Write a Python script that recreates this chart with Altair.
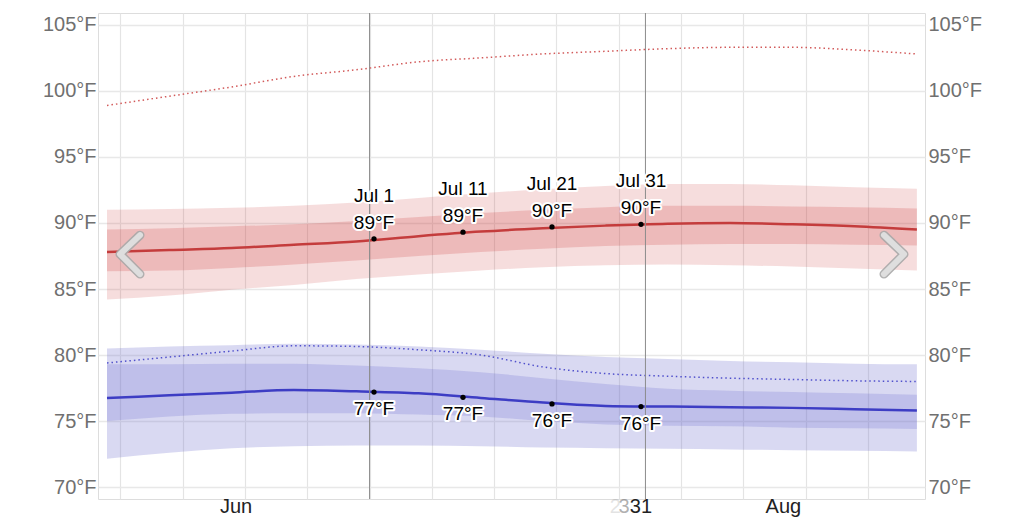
import altair as alt
import pandas as pd

# ---------------- data ----------------
knot_dates = ["2023-06-01", "2023-06-08", "2023-06-15", "2023-06-22", "2023-06-29",
              "2023-07-06", "2023-07-13", "2023-07-20", "2023-07-27", "2023-08-03",
              "2023-08-10", "2023-08-17", "2023-08-24", "2023-08-31"]

high_avg = [87.8, 87.95, 88.1, 88.35, 88.6, 89.0, 89.35, 89.6, 89.8, 89.95, 90.0, 89.9, 89.75, 89.5]
high_p10 = [84.2, 84.5, 84.95, 85.3, 85.75, 86.1, 86.4, 86.65, 86.8, 86.85, 86.8, 86.7, 86.55, 86.4]
high_p90 = [91.0, 91.05, 91.15, 91.3, 91.55, 91.9, 92.25, 92.55, 92.8, 92.95, 92.95, 92.85, 92.7, 92.6]
high_p25 = [86.35, 86.4, 86.6, 86.85, 87.15, 87.5, 87.8, 88.05, 88.25, 88.35, 88.4, 88.4, 88.35, 88.3]
high_p75 = [89.5, 89.6, 89.75, 89.9, 90.15, 90.45, 90.75, 91.0, 91.2, 91.3, 91.3, 91.25, 91.2, 91.1]
high_dot = [98.9, 99.6, 100.3, 101.1, 101.6, 102.2, 102.5, 102.8, 103.0, 103.2, 103.3, 103.3, 103.1, 102.8]

low_avg = [76.75, 76.95, 77.15, 77.35, 77.25, 77.1, 76.75, 76.4, 76.15, 76.1, 76.05, 76.0, 75.9, 75.8]
low_p10 = [72.15, 72.6, 72.95, 73.1, 73.15, 73.15, 73.1, 73.0, 72.95, 72.9, 72.85, 72.8, 72.75, 72.7]
low_p90 = [80.5, 80.65, 80.75, 80.85, 80.8, 80.65, 80.4, 80.1, 79.85, 79.7, 79.55, 79.45, 79.35, 79.3]
low_p25 = [75.0, 75.35, 75.55, 75.6, 75.6, 75.5, 75.35, 75.0, 74.75, 74.65, 74.6, 74.5, 74.45, 74.4]
low_p75 = [79.3, 79.3, 79.35, 79.35, 79.2, 79.0, 78.7, 78.25, 77.8, 77.45, 77.3, 77.2, 77.1, 77.0]
low_dot = [79.4, 79.85, 80.3, 80.7, 80.65, 80.4, 80.0, 79.1, 78.6, 78.4, 78.25, 78.15, 78.05, 78.0]

ann_dates = ["2023-07-01", "2023-07-11", "2023-07-21", "2023-07-31"]
ann_names = ["Jul 1", "Jul 11", "Jul 21", "Jul 31"]
ann_high = [88.8, 89.3, 89.7, 89.9]
ann_high_lbl = ["89°F", "89°F", "90°F", "90°F"]
ann_low = [77.2, 76.8, 76.3, 76.1]
ann_low_lbl = ["77°F", "77°F", "76°F", "76°F"]

month_days = [15.0, 76.5]          # days since Jun 1 00:00 (mid-month)
month_labels = ["Jun", "Aug"]
day_label_days = [60.5]
day_labels = ["31"]
ghost_days = [57.6, 58.6]
ghost_labels = ["2", "3"]
ghost_opacity = [0.12, 0.35]

grid_days = [2, 9, 16, 23, 30, 37, 44, 51, 58, 65, 72, 79, 86]   # weekly midnights
marker_days = [30, 61]                                         # Jul 1, Aug 1
y_ticks = [70, 75, 80, 85, 90, 95, 100, 105]

chev_id = ["L", "L", "L", "R", "R", "R"]
chev_i = [0, 1, 2, 0, 1, 2]
chev_x = [4.21, 1.96, 4.21, 87.8, 90.05, 87.8]
chev_y = [89.08, 87.64, 86.13, 89.08, 87.64, 86.13]

# ---------------- tables ----------------
start = pd.Timestamp("2023-06-01")
def to_day(ds):
    return [(pd.Timestamp(d) - start).days + 0.5 for d in ds]

df = pd.DataFrame({
    "day": to_day(knot_dates),
    "high_avg": high_avg, "high_p10": high_p10, "high_p90": high_p90,
    "high_p25": high_p25, "high_p75": high_p75, "high_dot": high_dot,
    "low_avg": low_avg, "low_p10": low_p10, "low_p90": low_p90,
    "low_p25": low_p25, "low_p75": low_p75, "low_dot": low_dot,
})
ann = pd.DataFrame({"day": to_day(ann_dates), "name": ann_names,
                    "hi": ann_high, "hil": ann_high_lbl,
                    "lo": ann_low, "lol": ann_low_lbl})
months = pd.DataFrame({"day": month_days, "lbl": month_labels})
dlabels = pd.DataFrame({"day": day_label_days, "lbl": day_labels})
ghosts = pd.DataFrame({"day": ghost_days, "lbl": ghost_labels, "op": ghost_opacity})
markers = pd.DataFrame({"day": marker_days})
chev = pd.DataFrame({"id": chev_id, "i": chev_i, "day": chev_x, "v": chev_y})

FONT = "Liberation Sans"
YDOM = [69.1, 105.9]
xs = alt.Scale(domain=[-0.511, 92.41], nice=False, zero=False)
xaxis = alt.Axis(values=grid_days, grid=True, labels=False, ticks=False, domain=False,
                 title=None, gridColor="#e4e4e4", gridWidth=1.2)
X = alt.X("day:Q", scale=xs, axis=xaxis)
ys = alt.Scale(domain=YDOM, nice=False, zero=False)
yaxis_left = alt.Axis(values=y_ticks, labelExpr="datum.value + '°F'", orient="left",
                      domain=False, ticks=False, labelPadding=2, title=None,
                      gridColor="#e8e8e8", gridWidth=1.5, labelFontSize=20,
                      labelColor="#707070", labelFont=FONT)
yaxis_right = alt.Axis(values=y_ticks, labelExpr="datum.value + '°F'", orient="right",
                       domain=False, ticks=False, labelPadding=3, title=None, grid=False,
                       labelFontSize=20, labelColor="#707070", labelFont=FONT)

base = alt.Chart(df)

def band(lo, hi, color, op):
    return base.mark_area(color=color, opacity=op, interpolate="monotone").encode(
        x=X, y=alt.Y(f"{lo}:Q", scale=ys, axis=yaxis_left), y2=f"{hi}:Q")

def line(field, color, width, dash=None):
    kw = dict(color=color, strokeWidth=width, interpolate="monotone")
    if dash:
        kw["strokeDash"] = dash
    return base.mark_line(**kw).encode(x=X, y=alt.Y(f"{field}:Q", scale=ys, axis=yaxis_left))

RED = "#cc3333"
BLUE = "#6666cc"
layers = [
    band("high_p10", "high_p90", RED, 0.17),
    band("high_p25", "high_p75", RED, 0.2),
    band("low_p10", "low_p90", BLUE, 0.25),
    band("low_p25", "low_p75", BLUE, 0.22),
    line("low_dot", "#5050cc", 1.5, [1.5, 3]),
    line("high_avg", "#c43c3c", 2.5),
    line("low_avg", "#3d3dc4", 2.5),
]

rules = alt.Chart(markers).mark_rule(color="#8c8c8c", strokeWidth=1).encode(x=X)

dots_hi = alt.Chart(ann).mark_circle(color="black", size=28, opacity=1).encode(
    x=X, y=alt.Y("hi:Q", scale=ys, axis=yaxis_left))
dots_lo = alt.Chart(ann).mark_circle(color="black", size=28, opacity=1).encode(
    x=X, y=alt.Y("lo:Q", scale=ys, axis=yaxis_left))

def halo_text(field, yfield, dy):
    out = []
    for stroke in (True, False):
        kw = dict(font=FONT, fontSize=19, dy=dy, baseline="alphabetic", align="center")
        if stroke:
            kw.update(color="white", stroke="white", strokeWidth=4, strokeJoin="round")
        else:
            kw.update(color="black")
        out.append(alt.Chart(ann).mark_text(**kw).encode(
            x=X, y=alt.Y(f"{yfield}:Q", scale=ys, axis=yaxis_left), text=f"{field}:N"))
    return out

texts = halo_text("name", "hi", -37) + halo_text("hil", "hi", -10) + halo_text("lol", "lo", 23)

LBL_Y = 500
mtext = alt.Chart(months).mark_text(font=FONT, fontSize=20, color="#222222",
                                    baseline="alphabetic").encode(
    x=X, y=alt.value(LBL_Y), text="lbl:N")
dtext = alt.Chart(dlabels).mark_text(font=FONT, fontSize=20, color="#222222",
                                     baseline="alphabetic").encode(
    x=X, y=alt.value(LBL_Y), text="lbl:N")
gtext = alt.Chart(ghosts).mark_text(font=FONT, fontSize=20, color="#222222",
                                    baseline="alphabetic").encode(
    x=X, y=alt.value(LBL_Y), text="lbl:N", opacity=alt.Opacity("op:Q", scale=None))

chev_outer = alt.Chart(chev).mark_line(color="#a9a9a9", strokeWidth=9, strokeCap="round",
                                       strokeJoin="round", opacity=0.9).encode(
    x=X, y=alt.Y("v:Q", scale=ys, axis=yaxis_left), detail="id:N", order="i:Q")
chev_inner = alt.Chart(chev).mark_line(color="#dedede", strokeWidth=6, strokeCap="round",
                                       strokeJoin="round").encode(
    x=X, y=alt.Y("v:Q", scale=ys, axis=yaxis_left), detail="id:N", order="i:Q")

main = alt.layer(*layers, rules, dots_hi, dots_lo, *texts, mtext, gtext, dtext,
                 chev_outer, chev_inner)

right = base.mark_line(color="#d25a5a", strokeWidth=1.5, strokeDash=[1.5, 3],
                       interpolate="monotone").encode(
    x=X, y=alt.Y("high_dot:Q", scale=alt.Scale(domain=YDOM, nice=False, zero=False),
                 axis=yaxis_right))

chart = alt.layer(main, right).resolve_scale(y="independent").properties(
    width=827, height=486, autosize="none",
    padding={"left": 90, "top": 5, "right": 91, "bottom": 19},
).configure_view(stroke=None).configure(background="white")

chart.save("out.html", embed_options={"renderer": "svg", "actions": False})
